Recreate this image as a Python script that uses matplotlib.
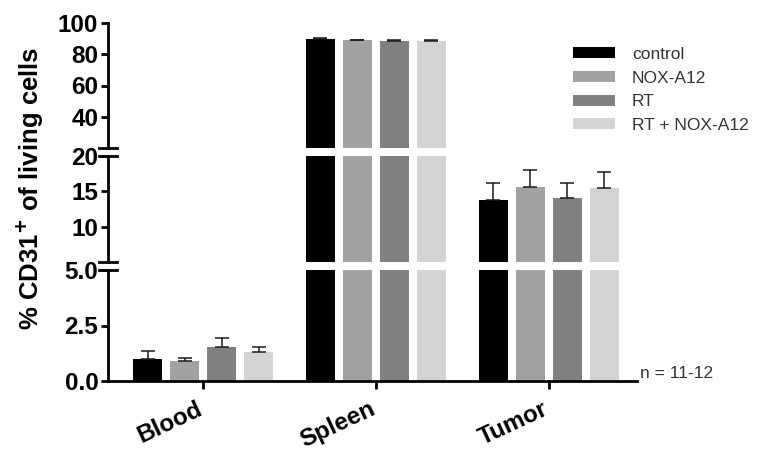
import matplotlib
matplotlib.use("Agg")
import matplotlib.pyplot as plt
import matplotlib.transforms as mtrans
import numpy as np
from matplotlib.patches import Patch

plt.rcParams['font.family'] = ['Liberation Sans', 'DejaVu Sans']

groups = ["Blood", "Spleen", "Tumor"]
series = ["control", "NOX-A12", "RT", "RT + NOX-A12"]
colors = ["#000000", "#a2a2a2", "#808080", "#d4d4d4"]
means = {
    "control":      [0.97, 89.7, 13.8],
    "NOX-A12":      [0.88, 89.0, 15.6],
    "RT":           [1.53, 88.6, 14.1],
    "RT + NOX-A12": [1.30, 88.8, 15.5],
}
errs = {
    "control":      [0.37, 0.4, 2.4],
    "NOX-A12":      [0.14, 0.4, 2.4],
    "RT":           [0.41, 0.4, 2.1],
    "RT + NOX-A12": [0.23, 0.4, 2.2],
}
seg_ranges = [(20, 100), (5, 20), (0, 5)]
seg_ticks = [[40, 60, 80, 100], [10, 15, 20], [0.0, 2.5, 5.0]]
seg_ticklabels = [["40", "60", "80", "100"], ["10", "15", "20"], ["0.0", "2.5", "5.0"]]

W, H = 758, 453
fig = plt.figure(figsize=(W / 100, H / 100), dpi=100)
left = 108 / W
width = (637 - 108) / W
seg_px = [(23, 148), (156, 262), (270, 381)]
axes = []
for (t, b) in seg_px:
    ax = fig.add_axes([left, 1 - b / H, width, (b - t) / H])
    axes.append(ax)

x = np.arange(len(groups))
pitch = 0.214
bw = 0.168
lw = 2.0
for k, ax in enumerate(axes):
    for j, s in enumerate(series):
        pos = x + (j - 1.5) * pitch
        ax.bar(pos, means[s], width=bw, color=colors[j], edgecolor='none', zorder=2)
        ax.errorbar(pos, means[s], yerr=[np.zeros(len(groups)), errs[s]], fmt='none',
                    ecolor='#1a1a1a', elinewidth=1.1, capsize=4.8, capthick=1.1, zorder=3)
    ax.set_ylim(*seg_ranges[k])
    ax.set_xlim(-0.55, 2.51)
    ax.set_yticks(seg_ticks[k])
    ax.set_yticklabels(seg_ticklabels[k], fontsize=17.5, fontweight='bold')
    for sp in ['top', 'right']:
        ax.spines[sp].set_visible(False)
    ax.spines['left'].set_linewidth(lw)
    ax.tick_params(axis='y', length=5, width=lw, pad=2)
    ax.patch.set_alpha(0)
    if k < 2:
        ax.spines['bottom'].set_visible(False)
        ax.set_xticks([])
    else:
        ax.spines['bottom'].set_linewidth(lw)
        ax.set_xticks(x)
        ax.set_xticklabels(groups, fontsize=17.5, fontweight='bold', rotation=25,
                           ha='right', va='top', rotation_mode='anchor')
        ax.tick_params(axis='x', length=6, width=lw, pad=6)
        off = mtrans.ScaledTranslation(-7 / 100, 0, fig.dpi_scale_trans)
        for lab in ax.get_xticklabels():
            lab.set_transform(lab.get_transform() + off)

# break marks
d = 9 / (637 - 108)
for k, ax in enumerate(axes):
    if k > 0:
        ax.plot([-d, d], [1, 1], transform=ax.transAxes, color='black', lw=lw, clip_on=False)
    if k < 2:
        ax.plot([-d, d], [0, 0], transform=ax.transAxes, color='black', lw=lw, clip_on=False)

fig.text(30 / W, 1 - 188 / H, "% CD31$^{\\mathbf{+}}$ of living cells", rotation=90,
         fontsize=18.5, fontweight='bold', ha='center', va='center')

handles = [Patch(facecolor=c, edgecolor='none') for c in colors]
fig.legend(handles, series, loc='upper left', bbox_to_anchor=(573 / W, 1 - 47 / H),
           frameon=False, fontsize=12.5, handlelength=2.4, handleheight=0.6,
           handletextpad=1.0, labelspacing=0.5, borderpad=0, borderaxespad=0,
           labelcolor='#333333')

fig.text(640 / W, 1 - 373 / H, "n = 11-12", fontsize=12.5, color='#333333',
         ha='left', va='center')

fig.savefig("out.png", dpi=100)
